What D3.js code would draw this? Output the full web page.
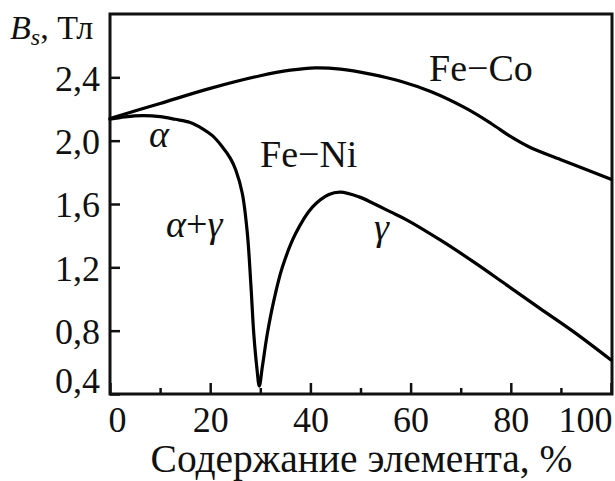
<!DOCTYPE html>
<html>
<head>
<meta charset="utf-8">
<script src="https://cdn.jsdelivr.net/npm/d3@7"></script>
<style>
  html, body { margin: 0; padding: 0; background: #fff; }
  svg { display: block; }
</style>
</head>
<body>
<script>
// ---- data ----
const feCoX = [0, 10, 20, 30, 36, 41, 46, 52, 58, 64, 71, 76, 80, 84, 90, 100];
const feCoY = [2.14, 2.235, 2.33, 2.41, 2.445, 2.46, 2.452, 2.42, 2.375, 2.31, 2.205, 2.11, 2.025, 1.955, 1.88, 1.756];

const feNiX = [0, 3, 6.5, 10, 13, 16, 18.5, 20.5, 22.4, 24, 25.1, 26.4, 27.4, 28.1, 28.7, 29.3, 29.8, 30.4, 31.4, 32.7, 34.4, 37, 40.4, 43.7, 46, 49.7, 52.5, 56, 59.2, 65.9, 72.5, 79.2, 85.8, 92.5, 100];
const feNiY = [2.135, 2.15, 2.158, 2.152, 2.135, 2.115, 2.075, 2.03, 1.962, 1.89, 1.815, 1.668, 1.42, 1.10, 0.78, 0.57, 0.45, 0.57, 0.78, 0.99, 1.20, 1.41, 1.58, 1.66, 1.675, 1.645, 1.605, 1.55, 1.50, 1.373, 1.236, 1.088, 0.941, 0.794, 0.615];

const xMajorTicks = [0, 20, 40, 60, 80, 100];
const xMinorTicks = [10, 30, 50, 70, 90];
const yTicks = [0.4, 0.8, 1.2, 1.6, 2.0, 2.4];
const xTitle = "Содержание элемента, %";

// ---- layout ----
const W = 615, H = 481;
const L = 110, R = 612, T = 14, B = 394;
const FONT = "Liberation Serif";

const svg = d3.select("body").append("svg").attr("width", W).attr("height", H);
svg.append("rect").attr("width", W).attr("height", H).attr("fill", "#fff");

const x = d3.scaleLinear().domain([0, 100]).range([L, R - 1]);
const y = d3.scaleLinear().domain([0.4, 2.8]).range([B, T]);

const ru = d3.formatLocale({decimal: ",", thousands: " ", grouping: [3], currency: ["", ""]});
const fy = ru.format(".1f");

// x axis
const gx = svg.append("g").attr("transform", `translate(0,${B})`)
  .call(d3.axisBottom(x).tickValues(xMajorTicks).tickSizeInner(-11).tickSizeOuter(0).tickFormat(d3.format("d")));
gx.select(".domain").remove();
gx.attr("font-family", null).attr("font-size", null);
gx.selectAll(".tick line").attr("stroke", "#111").attr("stroke-width", 2.5);
gx.selectAll(".tick text")
  .attr("y", 38).attr("dy", null).attr("fill", "#111")
  .style("font-family", FONT).style("font-size", "36px")
  .attr("text-anchor", d => d === 100 ? "end" : "middle")
  .attr("dx", d => d === 0 ? 7 : d === 100 ? 1 : 0);

const gxm = svg.append("g").attr("transform", `translate(0,${B})`)
  .call(d3.axisBottom(x).tickValues(xMinorTicks).tickSizeInner(-6).tickSizeOuter(0).tickFormat(""));
gxm.select(".domain").remove();
gxm.selectAll(".tick line").attr("stroke", "#111").attr("stroke-width", 2.5);

// y axis
const gy = svg.append("g").attr("transform", `translate(${L},0)`)
  .call(d3.axisLeft(y).tickValues(yTicks).tickSizeInner(-10).tickSizeOuter(0).tickFormat(fy));
gy.select(".domain").remove();
gy.attr("font-family", null).attr("font-size", null);
gy.selectAll(".tick line").attr("stroke", "#111").attr("stroke-width", 2.5);
gy.selectAll(".tick text")
  .attr("x", -10).attr("dy", d => d === 0.4 ? "-0.05em" : "0.36em").attr("fill", "#111")
  .style("font-family", FONT).style("font-size", "36px");

// frame
svg.append("rect").attr("x", L).attr("y", T).attr("width", R - L).attr("height", B - T)
  .attr("fill", "none").attr("stroke", "#111").attr("stroke-width", 3);

// curves
const line = d3.line().x(d => x(d[0])).y(d => y(d[1])).curve(d3.curveCatmullRom.alpha(0.5));
const feCo = feCoX.map((v, i) => [v, feCoY[i]]);
const feNi = feNiX.map((v, i) => [v, feNiY[i]]);
[feCo, feNi].forEach(data => {
  svg.append("path").datum(data).attr("d", line)
    .attr("fill", "none").attr("stroke", "#000").attr("stroke-width", 3.2)
    .attr("stroke-linejoin", "round").attr("stroke-linecap", "round");
});

// labels
function label(xp, yp, size) {
  return svg.append("text").attr("x", xp).attr("y", yp).attr("fill", "#111")
    .style("font-family", FONT).style("font-size", size + "px");
}
label(429, 81, 38).text("Fe\u2212Co");
label(260, 167, 38).text("Fe\u2212Ni");
label(149, 147, 38).style("font-style", "italic").text("α");
const ag = label(166, 237, 38);
ag.append("tspan").style("font-style", "italic").text("α");
ag.append("tspan").text("+");
ag.append("tspan").style("font-style", "italic").text("γ");
label(374, 240, 38).style("font-style", "italic").text("γ");

// y axis title
const yt = label(10, 39, 34);
yt.append("tspan").style("font-style", "italic").text("B");
yt.append("tspan").style("font-style", "italic").style("font-size", "24px").attr("dy", 6).text("s");
yt.append("tspan").attr("dy", -6).text(", Тл");

// x axis title
label((150 + 573) / 2, 472, 39.5).attr("text-anchor", "middle").text(xTitle);
</script>
</body>
</html>
